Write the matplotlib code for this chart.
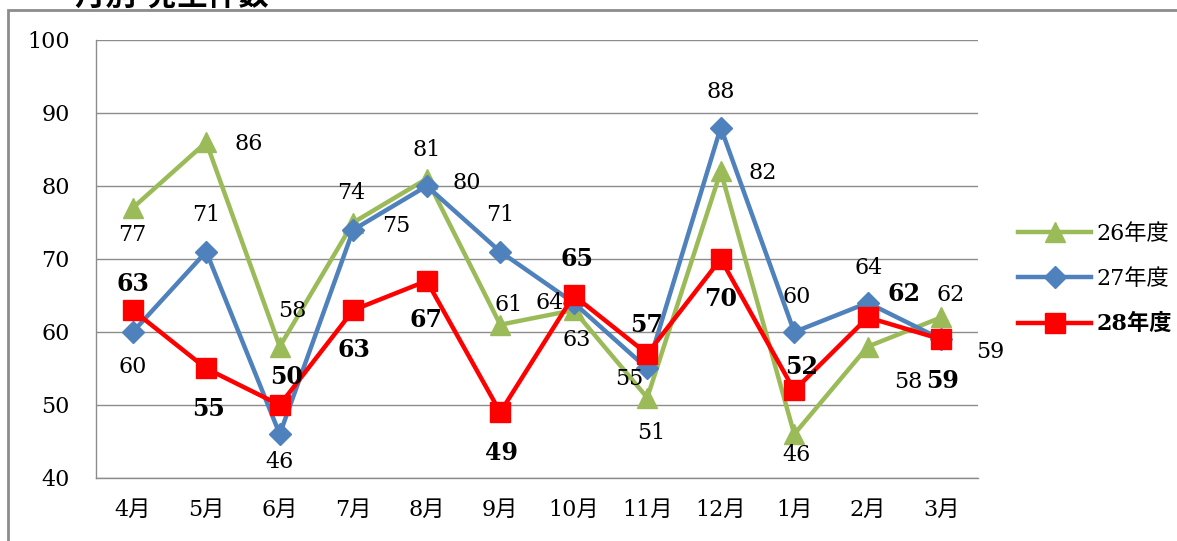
import matplotlib
matplotlib.use("Agg")
import matplotlib.pyplot as plt
from matplotlib.patches import Rectangle

plt.rcParams['font.family'] = ['DejaVu Serif', 'Noto Sans CJK JP']

# data
months = ['4月', '5月', '6月', '7月', '8月', '9月', '10月', '11月', '12月', '1月', '2月', '3月']
fy26 = [77, 86, 58, 75, 81, 61, 63, 51, 82, 46, 58, 62]
fy27 = [60, 71, 46, 74, 80, 71, 64, 55, 88, 60, 64, 59]
fy28 = [63, 55, 50, 63, 67, 49, 65, 57, 70, 52, 62, 59]
series_names = ['26年度', '27年度', '28年度']
title = '月別 発生件数'

# label offsets in pixels (dx, dy; dy up)
off26 = [(0, -27), (42, -2), (13, 36), (43, -4), (0, 29), (8, 20),
         (3, -30), (4, -35), (42, -2), (2, -21), (41, -35), (9, 22)]
off27 = [(0, -35), (0, 37), (0, -28), (-2, 37), (40, 3), (0, 37),
         (-24, 0), (-18, -11), (0, 36), (2, 35), (1, 35), (49, -13)]
off28 = [(0, 26), (2, -41), (7, 28), (1, -40), (-1, -39), (1, -41),
         (3, 36), (-1, 29), (0, -40), (7, 23), (36, 23), (1, -42)]

W, H = 1177, 541
fig = plt.figure(figsize=(W / 100, H / 100), dpi=100)
ax = fig.add_axes([96 / W, 1 - 478 / H, (978 - 96) / W, (478 - 40) / H])

x = list(range(len(months)))
green, blue, red = '#9BBB59', '#4F81BD', '#FF0000'

ax.plot(x, fy26, color=green, lw=3.2, marker='^', ms=14, label=series_names[0], zorder=3)
ax.plot(x, fy27, color=blue, lw=3.2, marker='D', ms=11, label=series_names[1], zorder=4)
ax.plot(x, fy28, color=red, lw=3.2, marker='s', ms=15, label=series_names[2], zorder=5)

for vals, offs, bold in [(fy26, off26, False), (fy27, off27, False), (fy28, off28, True)]:
    for i, v in enumerate(vals):
        ax.annotate(str(v), (i, v), xytext=offs[i], textcoords='offset pixels',
                    ha='center', va='center', fontsize=17 if bold else 16,
                    fontweight='bold' if bold else 'normal', color='black', zorder=6)

ax.set_xlim(-0.5, len(months) - 0.5)
ax.set_ylim(40, 100)
ax.set_yticks(range(40, 101, 10))
ax.set_xticks(x)
ax.set_xticklabels(months)
ax.tick_params(length=0, labelsize=16, colors='black')
ax.tick_params(axis='y', pad=19)
ax.tick_params(axis='x', pad=15)
ax.grid(axis='y', color='#8c8c8c', lw=1)
ax.set_axisbelow(True)
for s in ['top', 'right']:
    ax.spines[s].set_visible(False)
for s in ['left', 'bottom']:
    ax.spines[s].set_color('#8c8c8c')
    ax.spines[s].set_linewidth(1)

leg = ax.legend(loc='center left', bbox_to_anchor=(1018 / W, 1 - 279 / H),
                bbox_transform=fig.transFigure, frameon=False, fontsize=16,
                handlelength=3.3, labelspacing=1.05, numpoints=1, handletextpad=0.25,
                borderpad=0, borderaxespad=0)
leg.get_texts()[2].set_fontweight('bold')

# outer chart border (partly outside the image)
fig.add_artist(Rectangle((8 / W, -0.2), 1.2, 1 - 10 / H + 0.2, transform=fig.transFigure,
                         fill=False, edgecolor='#8c8c8c', lw=2))
fig.text(75 / W, 1 - 5 / H, title, fontsize=22, fontweight='bold', va='baseline', ha='left')

fig.savefig('out.png', dpi=100)
